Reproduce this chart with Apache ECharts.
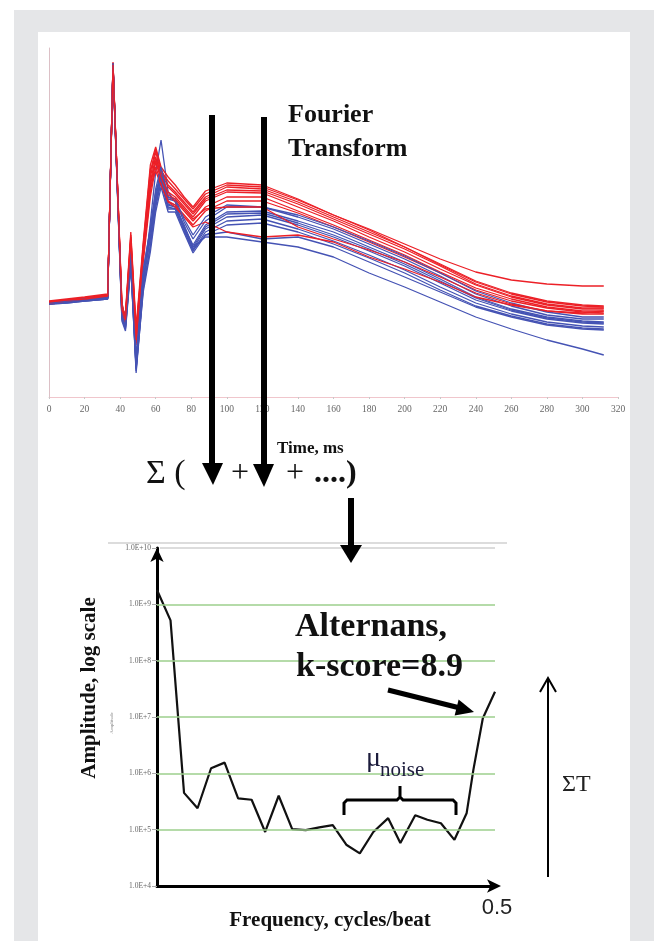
<!DOCTYPE html>
<html>
<head>
    <meta charset="UTF-8">
    <title>T-wave alternans</title>
    <script src="https://cdn.jsdelivr.net/npm/echarts@6/dist/echarts.min.js"></script>
    <style>
        html, body { margin: 0; padding: 0; background: #fff; }
        #frame { position: absolute; left: 14px; top: 10px; width: 640px; height: 931px; background: #e5e6e8; }
        #panel { position: absolute; left: 38px; top: 32px; width: 592px; height: 909px; background: #fff; }
        #main { position: absolute; left: 0; top: 0; width: 657px; height: 941px; }
    </style>
</head>
<body>
<div id="frame"></div>
<div id="panel"></div>
<div id="main"></div>

<script>
    // time points of each beat, ms
    var times = [0, 10, 20, 33, 36, 41, 43, 46, 49, 53, 57, 60, 63, 67, 71, 76, 81, 88, 100, 120, 140, 160, 180, 200, 220, 240, 260, 280, 300, 312];

    // even beats (red)
    var redBeats = [
        [95, 97, 99, 102, 335, 88, 82, 162, 64, 150, 225, 248, 228, 212, 205, 195, 185, 200, 210, 208, 195, 180, 165, 150, 132, 115, 103, 95, 91, 90],
        [94, 96, 98, 101, 332, 92, 78, 158, 58, 145, 215, 240, 222, 205, 200, 190, 180, 196, 205, 204, 190, 176, 160, 145, 128, 112, 100, 92, 88, 88],
        [96, 98, 100, 103, 330, 86, 84, 165, 70, 155, 232, 250, 230, 220, 212, 200, 190, 206, 214, 212, 198, 182, 167, 150, 133, 116, 104, 96, 92, 91],
        [93, 95, 97, 100, 334, 95, 76, 150, 55, 140, 205, 235, 218, 200, 196, 186, 176, 190, 200, 200, 186, 172, 157, 142, 125, 109, 98, 90, 86, 86],
        [95, 97, 99, 101, 333, 90, 80, 155, 62, 148, 220, 245, 225, 210, 203, 193, 183, 198, 207, 206, 193, 178, 163, 148, 131, 113, 101, 93, 89, 89],
        [94, 96, 98, 100, 330, 84, 74, 148, 52, 135, 200, 230, 215, 196, 192, 182, 172, 186, 196, 196, 184, 170, 155, 140, 124, 107, 96, 89, 85, 84],
        [95, 97, 99, 102, 334, 89, 81, 160, 66, 152, 228, 238, 226, 216, 208, 198, 188, 203, 212, 210, 197, 182, 168, 153, 138, 125, 117, 113, 111, 111],
        [94, 96, 98, 101, 331, 93, 79, 152, 60, 142, 210, 226, 212, 195, 190, 180, 170, 175, 165, 160, 162, 155, 140, 128, 115, 100, 92, 86, 84, 86],
        [95, 97, 98, 101, 332, 87, 77, 157, 57, 146, 212, 236, 220, 202, 198, 188, 178, 188, 190, 190, 170, 158, 147, 135, 120, 104, 93, 86, 83, 83]
    ];

    // odd beats (blue)
    var blueBeats = [
        [94, 95, 97, 99, 333, 82, 72, 140, 30, 118, 165, 200, 228, 195, 192, 170, 152, 172, 185, 186, 176, 165, 150, 135, 118, 100, 88, 80, 76, 75],
        [93, 95, 97, 99, 332, 80, 70, 135, 26, 112, 175, 225, 257, 205, 195, 168, 148, 168, 180, 182, 172, 160, 146, 131, 114, 97, 86, 78, 74, 73],
        [94, 96, 98, 100, 334, 85, 75, 145, 36, 125, 170, 205, 222, 198, 196, 175, 158, 176, 190, 190, 180, 168, 153, 138, 121, 103, 91, 82, 78, 78],
        [93, 94, 96, 98, 331, 78, 68, 132, 24, 108, 150, 190, 215, 188, 188, 166, 146, 165, 176, 178, 168, 156, 142, 127, 110, 94, 83, 75, 71, 70],
        [94, 95, 97, 99, 333, 83, 73, 142, 32, 120, 160, 198, 225, 193, 190, 172, 150, 170, 183, 184, 174, 162, 148, 133, 116, 99, 87, 79, 75, 74],
        [93, 94, 96, 98, 330, 76, 66, 130, 28, 105, 145, 185, 210, 185, 185, 164, 144, 162, 172, 174, 165, 153, 139, 124, 107, 91, 81, 73, 69, 68],
        [94, 95, 97, 99, 332, 81, 71, 138, 34, 115, 158, 195, 220, 192, 190, 170, 150, 160, 160, 155, 150, 140, 124, 110, 95, 80, 68, 57, 48, 42],
        [93, 95, 96, 98, 331, 79, 69, 134, 29, 110, 152, 192, 218, 190, 188, 167, 147, 162, 165, 158, 160, 150, 135, 120, 105, 90, 80, 72, 68, 67],
        [94, 96, 98, 100, 334, 86, 76, 146, 40, 128, 168, 208, 230, 200, 198, 178, 162, 180, 192, 190, 182, 170, 156, 141, 124, 106, 94, 85, 80, 80]
    ];

    // spectrum
    var freqs = [0, 0.02, 0.04, 0.06, 0.08, 0.10, 0.12, 0.14, 0.16, 0.18, 0.20, 0.22, 0.24, 0.26, 0.28, 0.30, 0.32, 0.342, 0.36, 0.382, 0.40, 0.42, 0.44, 0.458, 0.468, 0.482, 0.50];
    var amps = [1.8e9, 5.2e8, 4.5e5, 2.4e5, 1.23e6, 1.55e6, 3.6e5, 3.4e5, 9.1e4, 4.0e5, 1.02e5, 9.8e4, 1.1e5, 1.2e5, 5.4e4, 3.8e4, 9.1e4, 1.6e5, 5.8e4, 1.8e5, 1.5e5, 1.3e5, 6.6e4, 1.95e5, 1.15e6, 9.5e6, 2.8e7];

    var timeTicks = [0, 320, 20];
    var ampRange = [1e4, 1e10];
    var gridAmps = [1e5, 1e6, 1e7, 1e8, 1e9];

    var RED = '#ec2027';
    var BLUE = '#4553b4';
    var SERIF = '"Liberation Serif", "DejaVu Serif", serif';

    function toPairs(xs, ys) {
        return ys.map(function (y, i) { return [xs[i], y]; });
    }

    var series = [];
    for (var i = 0; i < redBeats.length; i++) {
        series.push({
            type: 'line', xAxisIndex: 0, yAxisIndex: 0,
            data: toPairs(times, blueBeats[i]),
            showSymbol: false, silent: true,
            lineStyle: { color: BLUE, width: 1.3 }
        });
        series.push({
            type: 'line', xAxisIndex: 0, yAxisIndex: 0,
            data: toPairs(times, redBeats[i]),
            showSymbol: false, silent: true,
            lineStyle: { color: RED, width: 1.3 }
        });
    }
    series.push({
        type: 'line', xAxisIndex: 1, yAxisIndex: 1,
        data: toPairs(freqs, amps),
        showSymbol: false, silent: true,
        lineStyle: { color: '#111', width: 2.2 },
        markLine: {
            silent: true, symbol: ['none', 'none'], animation: false,
            label: { show: false },
            lineStyle: { color: '#9ccf8c', width: 1.5, type: 'solid' },
            data: gridAmps.map(function (v) { return { yAxis: v }; })
        }
    });

    function txt(x, y, s, font, opt) {
        opt = opt || {};
        return {
            type: 'text', x: x, y: y, rotation: opt.rot || 0, z: 50,
            style: {
                text: s, font: font, fill: opt.fill || '#111',
                align: opt.align || 'left', verticalAlign: opt.va || 'middle'
            }
        };
    }
    function seg(x1, y1, x2, y2, w, color) {
        return { type: 'line', z: 50, shape: { x1: x1, y1: y1, x2: x2, y2: y2 }, style: { stroke: color || '#000', lineWidth: w } };
    }
    function tri(pts) {
        return { type: 'polygon', z: 50, shape: { points: pts }, style: { fill: '#000' } };
    }

    var graphics = [
        // top gray rules of the spectrum plot
        seg(108, 543, 507, 543, 1.5, '#d0d0d0'),
        seg(160, 548, 495, 548, 1.5, '#d0d0d0'),

        txt(288, 115, 'Fourier', 'bold 26px ' + SERIF),
        txt(288, 149, 'Transform', 'bold 26px ' + SERIF),
        txt(277, 449, 'Time, ms', 'bold 17px ' + SERIF),

        // two picking arrows
        seg(212, 115, 212, 465, 6),
        tri([[202, 463], [223, 463], [213, 485]]),
        seg(264, 117, 264, 466, 6),
        tri([[253, 464], [274, 464], [264, 487]]),

        txt(146, 474, 'Σ (', '34px ' + SERIF),
        txt(240, 474, '+', '32px ' + SERIF, { align: 'center' }),
        txt(295, 474, '+', '32px ' + SERIF, { align: 'center' }),
        txt(314, 474, '....)', 'bold 32px ' + SERIF),

        seg(351, 498, 351, 547, 6),
        tri([[340, 545], [362, 545], [351, 563]]),

        txt(295, 627, 'Alternans,', 'bold 34px ' + SERIF),
        txt(296, 667, 'k-score=8.9', 'bold 34px ' + SERIF),
        seg(388, 690, 458, 707.5, 5),
        tri([[474, 712], [454.6, 715.5], [458.6, 699.6]]),

        txt(366, 759, 'μ', '28px ' + SERIF, { fill: '#1c1c3c' }),
        txt(380, 770, 'noise', '21px ' + SERIF, { fill: '#1c1c3c' }),
        {
            type: 'polyline', z: 50,
            shape: { points: [[344, 815], [344, 803], [347, 800], [397, 800], [400, 797], [400, 786], [400, 797], [403, 800], [453, 800], [456, 803], [456, 815]] },
            style: { stroke: '#000', lineWidth: 3, fill: null }
        },

        seg(548, 877, 548, 678, 2),
        { type: 'polyline', z: 50, shape: { points: [[540, 692], [548, 678], [556, 692]] }, style: { stroke: '#000', lineWidth: 2, fill: null } },
        txt(562, 785, 'ΣT', '24px ' + SERIF, { fill: '#222' }),

        txt(90, 688, 'Amplitude, log scale', 'bold 21px ' + SERIF, { align: 'center', rot: Math.PI / 2 }),
        txt(112, 723, 'Amplitude', '5px ' + SERIF, { align: 'center', rot: Math.PI / 2, fill: '#888' }),
        txt(330, 921, 'Frequency, cycles/beat', 'bold 21px ' + SERIF, { align: 'center' }),
        txt(497, 908, '0.5', '22px "Liberation Sans", Arial, sans-serif', { align: 'center', fill: '#222' })
    ];

    var option = {
        animation: false,
        grid: [
            { left: 49, top: 48, width: 569, height: 349 },
            { left: 157, top: 548, width: 338, height: 338 }
        ],
        xAxis: [
            {
                type: 'value', gridIndex: 0,
                min: timeTicks[0], max: timeTicks[1], interval: timeTicks[2],
                axisLine: { show: true, lineStyle: { color: '#f0c6cc', width: 1 } },
                axisTick: { show: true, length: 2, lineStyle: { color: '#c8c8c8' } },
                axisLabel: { color: '#666', fontFamily: SERIF, fontSize: 9.5, margin: 7 },
                splitLine: { show: false }
            },
            {
                type: 'value', gridIndex: 1, min: 0, max: 0.5,
                axisLine: { show: true, symbol: ['none', 'arrow'], symbolSize: [10, 14], symbolOffset: [0, 6], lineStyle: { color: '#000', width: 3 } },
                axisTick: { show: false },
                axisLabel: { show: false },
                splitLine: { show: false }
            }
        ],
        yAxis: [
            {
                type: 'value', gridIndex: 0, min: 0, max: 349,
                axisLine: { show: true, lineStyle: { color: '#dcc0c6', width: 1 } },
                axisTick: { show: false },
                axisLabel: { show: false },
                splitLine: { show: false }
            },
            {
                type: 'log', gridIndex: 1, logBase: 10, min: ampRange[0], max: ampRange[1],
                axisLine: { show: true, symbol: ['none', 'arrow'], symbolSize: [10, 14], lineStyle: { color: '#000', width: 3 } },
                axisTick: { show: true, length: 5, lineStyle: { color: '#aaa' } },
                axisLabel: {
                    color: '#666', fontFamily: SERIF, fontSize: 7.5, margin: 6,
                    formatter: function (v) { return '1.0E+' + Math.round(Math.log10(v)); }
                },
                splitLine: { show: false }
            }
        ],
        graphic: { elements: graphics },
        series: series
    };

    var myChart = echarts.init(document.getElementById('main'), null, { renderer: 'canvas' });
    myChart.setOption(option);
</script>
</body>
</html>
